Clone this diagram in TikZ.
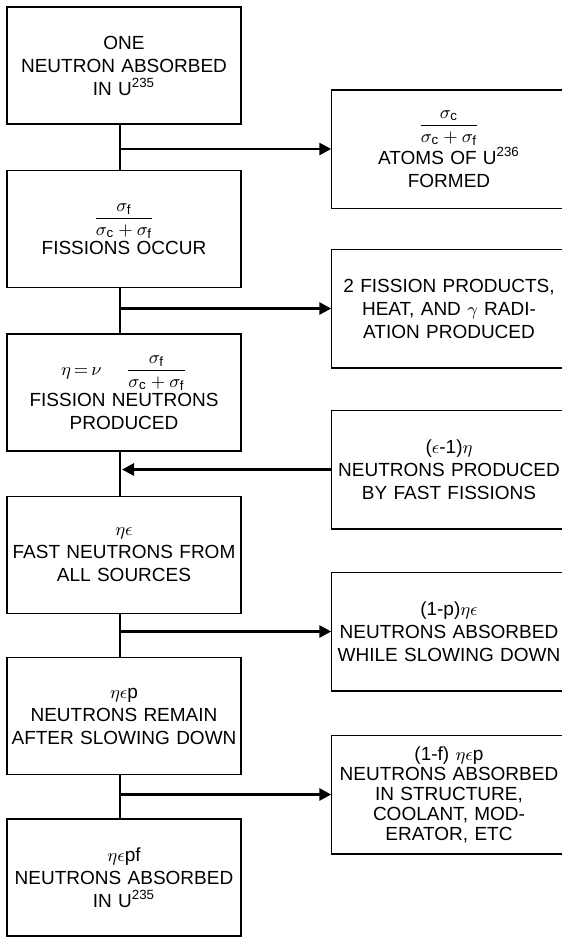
\documentclass[tikz,border=0pt]{standalone}
\usepackage{fontspec}
\setmainfont{Liberation Sans}
\usetikzlibrary{arrows.meta}

\tikzset{
  stagebox/.style={draw, line width=0.75pt, text width=115pt, inner sep=1pt,
    minimum height=58.5pt, align=center, font=\fontsize{9.5}{11.5}\selectfont},
  sidebox/.style={stagebox, draw=none},
  trunk/.style={line width=1.4pt},
  flow/.style={line width=1.4pt, -{Triangle[length=6pt,width=6pt]}},
}

\begin{document}
\begin{tikzpicture}[x=0.5pt, y=-0.5pt]
\useasboundingbox (0,0) rectangle (562,937);
\clip (0,0) rectangle (562,937);

% Main chain (left column)
\node[stagebox] (b1) at (124,65.5) {ONE\\NEUTRON ABSORBED\\IN U\textsuperscript{235}};
\node[stagebox] (b2) at (124,229)
  {$\displaystyle\frac{\sigma_{\mathrm{f}}}{\sigma_{\mathrm{c}}+\sigma_{\mathrm{f}}}$\\FISSIONS OCCUR};
\node[stagebox] (b3) at (124,392.5)
  {$\displaystyle\eta\,{=}\,\nu\;\;\frac{\;\sigma_{\mathrm{f}}\;}{\sigma_{\mathrm{c}}+\sigma_{\mathrm{f}}}$\\FISSION NEUTRONS\\PRODUCED};
\node[stagebox] (b4) at (124,555) {$\eta\epsilon$\\FAST NEUTRONS FROM\\ALL SOURCES};
\node[stagebox] (b5) at (124,716) {$\eta\epsilon$p\\NEUTRONS REMAIN\\AFTER SLOWING DOWN};
\node[stagebox] (b6) at (124,877.5) {$\eta\epsilon$pf\\NEUTRONS ABSORBED\\IN U\textsuperscript{235}};

% Side results (right column, open at the edge)
\node[sidebox] (r1) at (449,149)
  {$\displaystyle\frac{\sigma_{\mathrm{c}}}{\sigma_{\mathrm{c}}+\sigma_{\mathrm{f}}}$\\ATOMS OF U\textsuperscript{236}\\FORMED};
\node[sidebox] (r2) at (449,308.5) {2 FISSION PRODUCTS,\\HEAT, AND $\gamma$ RADI-\\ATION PRODUCED};
\node[sidebox] (r3) at (449,469.5) {($\epsilon$-1)$\eta$\\NEUTRONS PRODUCED\\BY FAST FISSIONS};
\node[sidebox] (r4) at (449,631.5) {(1-p)$\eta\epsilon$\\NEUTRONS ABSORBED\\WHILE SLOWING DOWN};
\node[sidebox, font=\fontsize{9.5}{10}\selectfont] (r5) at (449,794.5)
  {(1-f) $\eta\epsilon$p\\NEUTRONS ABSORBED\\IN STRUCTURE,\\COOLANT, MOD-\\ERATOR, ETC};

\foreach \r in {r1,r2,r3,r4,r5}
  \draw[line width=0.75pt] ([xshift=20pt]\r.north east) -- (\r.north west)
    -- (\r.south west) -- ([xshift=20pt]\r.south east);

% Vertical trunk
\foreach \a/\b in {b1/b2, b2/b3, b3/b4, b4/b5, b5/b6}
  \draw[trunk] ([xshift=-2pt]\a.south) -- ([xshift=-2pt]\b.north);

% Branches out to the side boxes
\foreach \a/\r in {b1/r1, b2/r2, b4/r4, b5/r5}
  \draw[flow] ([xshift=-2pt]\a.south |- \r.west) -- (\r.west);

% Fast fission neutrons come back in
\draw[flow] (r3.west) -- ([xshift=-1pt]b3.south |- r3.west);
\end{tikzpicture}
\end{document}
